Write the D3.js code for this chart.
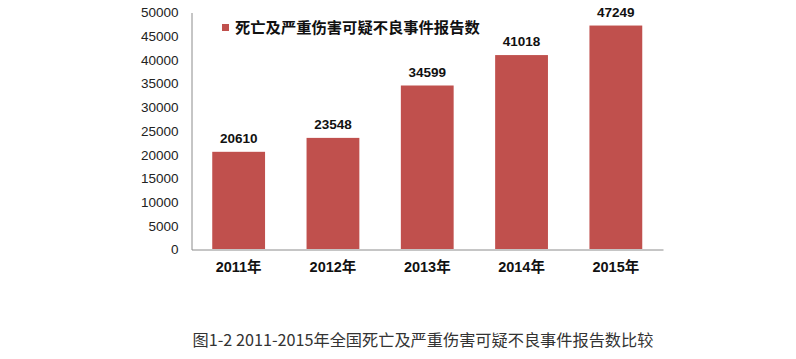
<!DOCTYPE html>
<html><head><meta charset="utf-8">
<script src="https://cdn.jsdelivr.net/npm/d3@7/dist/d3.min.js"></script>
<style>body{margin:0;background:#fff}svg{display:block}</style>
</head><body>
<svg id="c" width="796" height="359"></svg>
<script>
const categories = ["2011年","2012年","2013年","2014年","2015年"];
const values = [20610, 23548, 34599, 41018, 47249];
const yTicks = [0,5000,10000,15000,20000,25000,30000,35000,40000,45000,50000];
const legendLabel = "死亡及严重伤害可疑不良事件报告数";
const caption = "图1-2 2011-2015年全国死亡及严重伤害可疑不良事件报告数比较";

(function(){
const svg = d3.select("#c");
const mLeft = 191.5, mRight = 663, mTop = 12.5, mBottom = 249.5;
const x = d3.scaleBand().domain(categories).range([mLeft, mRight]).paddingInner(0.44).paddingOuter(0.22);
const y = d3.scaleLinear().domain([0, 50000]).range([mBottom, mTop]);
const font = "Arial, 'Liberation Sans', 'Noto Sans CJK SC', sans-serif";

const ya = svg.append("g").attr("transform", `translate(${mLeft},0)`)
  .call(d3.axisLeft(y).tickValues(yTicks).tickSize(0).tickPadding(13).tickFormat(d3.format("d")));
ya.select(".domain").attr("stroke", "#8c8c8c");
ya.selectAll("text").attr("font-family", font).attr("font-size", 13.5).attr("fill", "#222");

const xa = svg.append("g").attr("transform", `translate(0,${mBottom})`)
  .call(d3.axisBottom(x).tickSize(0).tickPadding(12));
xa.select(".domain").attr("stroke", "#8c8c8c");
xa.selectAll("text").attr("font-family", font).attr("font-size", 14.5).attr("font-weight", "bold").attr("fill", "#111");

svg.append("g").selectAll("rect").data(values).join("rect")
  .attr("x", (d,i) => x(categories[i]))
  .attr("width", x.bandwidth())
  .attr("y", d => y(d))
  .attr("height", d => mBottom - 0.5 - y(d))
  .attr("fill", "#c0504d");

svg.append("g").selectAll("text").data(values).join("text")
  .attr("x", (d,i) => x(categories[i]) + x.bandwidth()/2)
  .attr("y", d => y(d) - 9)
  .attr("text-anchor", "middle")
  .attr("font-family", font).attr("font-size", 13.5).attr("font-weight", "bold").attr("fill", "#111")
  .text(d => d);

svg.append("rect").attr("x", 222).attr("y", 24).attr("width", 7).attr("height", 7).attr("fill", "#c0504d");
svg.append("text").attr("x", 235).attr("y", 33)
  .attr("font-family", "'Noto Sans CJK SC', sans-serif").attr("font-size", 15.3).attr("font-weight", "bold").attr("fill", "#111")
  .text(legendLabel);

svg.append("text").attr("x", 423).attr("y", 346).attr("text-anchor", "middle")
  .attr("font-family", "'Noto Sans CJK SC', sans-serif").attr("font-size", 16.2).attr("fill", "#333")
  .text(caption);
})();
</script>
</body></html>
